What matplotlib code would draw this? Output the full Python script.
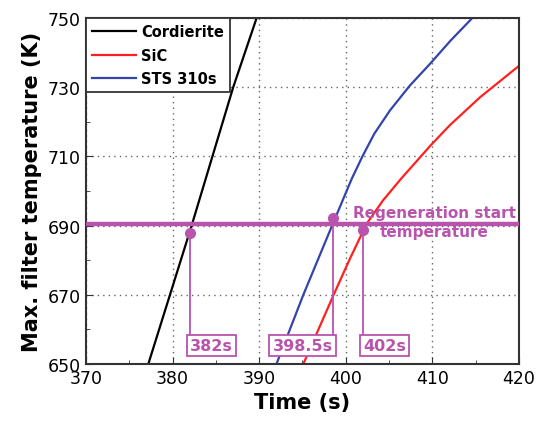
import matplotlib.pyplot as plt
from matplotlib.ticker import MultipleLocator

# temperature traces (time s, max filter temperature K)
cord_t = [377.2, 379.7, 382.2, 384.6, 387.0, 389.7]
cord_T = [650, 670, 690, 710, 730, 750]
sic_t = [395.1, 398.6, 400.4, 402.4, 404.3, 406.4, 409.8, 412.0, 415.5, 420.0]
sic_T = [650, 670, 680, 690.5, 697.3, 703.6, 713.2, 719.0, 727.1, 736.2]
sts_t = [392.0, 395.1, 398.5, 400.7, 401.9, 403.3, 405.1, 407.4, 409.7, 412.1, 414.6]
sts_T = [650, 670, 690.5, 703.6, 709.9, 716.6, 723.3, 730.5, 736.7, 743.5, 750]

regen_T = 690.5
start_times = [382, 398.5, 402]
start_temps = [688.0, 692.3, 688.6]
start_labels = ['382s', '398.5s', '402s']

purple = '#b954ad'

fig = plt.figure(figsize=(5.36, 4.35), dpi=100)
ax = fig.add_axes([0.1604, 0.161, 0.8078, 0.795])

ax.plot(cord_t, cord_T, color='black', lw=1.6, label='Cordierite')
ax.plot(sic_t, sic_T, color='#ff2020', lw=1.6, label='SiC')
ax.plot(sts_t, sts_T, color='#3344aa', lw=1.6, label='STS 310s')

ax.axhline(regen_T, color=purple, lw=3.2, zorder=4)
ax.text(410.2, 691.0, 'Regeneration start\ntemperature', color=purple,
        fontsize=11, fontweight='bold', ha='center', va='center',
        linespacing=1.3, zorder=6)

box_y = 655.3
for t, T, lab in zip(start_times, start_temps, start_labels):
    ax.plot([t, t], [T, box_y + 3], color=purple, lw=1.3, zorder=5)
    ax.plot(t, T, 'o', color=purple, ms=7, zorder=6)
    ha = 'right' if lab == '398.5s' else 'left'
    ax.text(t, box_y, lab, color=purple, fontsize=11.5, fontweight='bold',
            ha=ha, va='center', zorder=6,
            bbox=dict(boxstyle='square,pad=0.2', fc='white', ec=purple, lw=1.3))

ax.set_xlim(370, 420)
ax.set_ylim(650, 750)
ax.xaxis.set_major_locator(MultipleLocator(10))
ax.xaxis.set_minor_locator(MultipleLocator(5))
ax.set_yticks(range(650, 751, 20))
ax.set_yticks(range(660, 751, 20), minor=True)
ax.tick_params(which='both', direction='in', labelsize=12.5, color='#333333')
ax.tick_params(which='major', length=5)
ax.tick_params(which='minor', length=3)
ax.grid(True, which='major', ls=(0, (1, 3)), color='#666666', lw=1.0)
for s in ax.spines.values():
    s.set_linewidth(1.5)
    s.set_color('#333333')

ax.set_xlabel('Time (s)', fontsize=15, fontweight='bold')
ax.set_ylabel('Max. filter temperature (K)', fontsize=15, fontweight='bold')

leg = ax.legend(loc='upper left', prop={'weight': 'bold', 'size': 10.5},
                frameon=True, fancybox=False, borderaxespad=0, handlelength=3,
                handletextpad=0.4, labelspacing=0.6, borderpad=0.4)
leg.get_frame().set_edgecolor('#333333')
leg.get_frame().set_linewidth(1.3)
leg.get_frame().set_alpha(1)

fig.savefig('out.png', dpi=100)
